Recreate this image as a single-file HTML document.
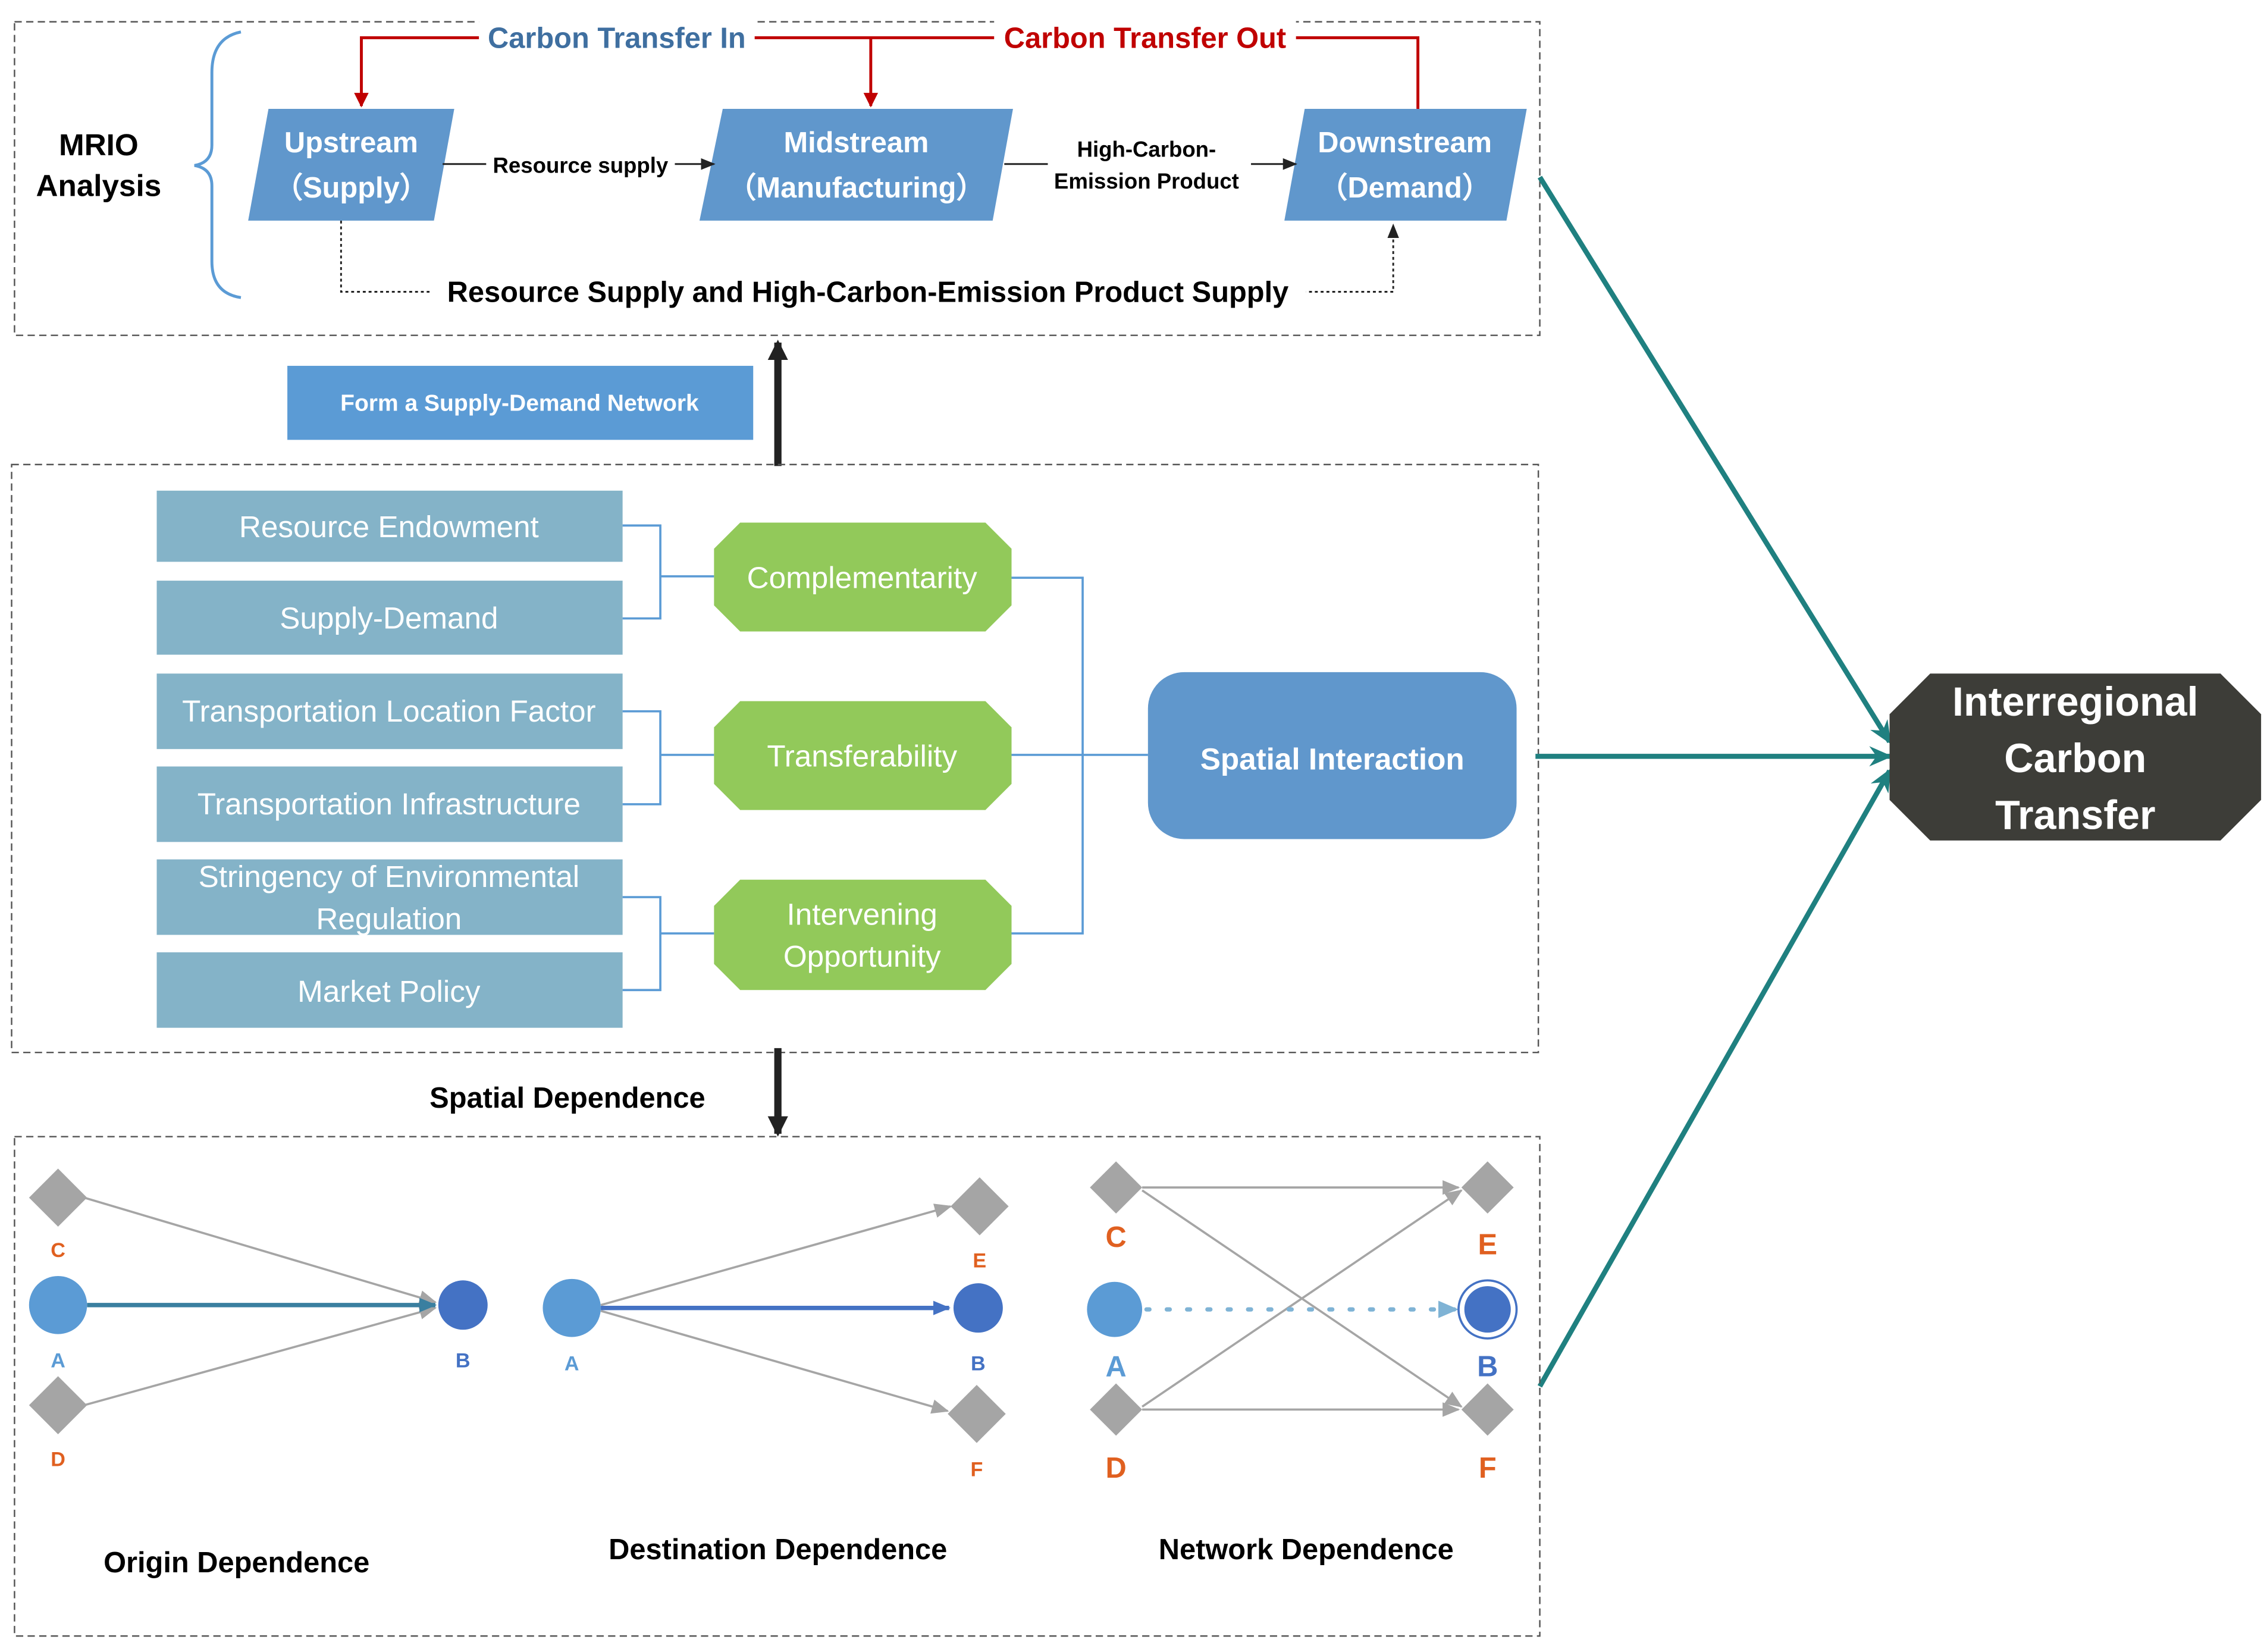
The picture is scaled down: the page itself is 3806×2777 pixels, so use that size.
<!DOCTYPE html>
<html><head><meta charset="utf-8"><style>
html,body{margin:0;padding:0;background:#fff;}
svg{display:block;}
text{font-family:"Liberation Sans",sans-serif;}
</style></head><body>
<svg width="3806" height="2777" viewBox="0 0 1560 1138" preserveAspectRatio="none" xmlns="http://www.w3.org/2000/svg">
<defs>
<marker id="ak" markerWidth="10" markerHeight="8" refX="9" refY="4" orient="auto" markerUnits="userSpaceOnUse"><path d="M0,0L10,4L0,8z" fill="#222"/></marker>
<marker id="ar" markerWidth="10" markerHeight="10" refX="9" refY="5" orient="auto" markerUnits="userSpaceOnUse"><path d="M0,0L10,5L0,10z" fill="#c00000"/></marker>
<marker id="ag" markerWidth="12" markerHeight="10" refX="11" refY="5" orient="auto" markerUnits="userSpaceOnUse"><path d="M0,0L12,5L0,10z" fill="#a5a5a5"/></marker>
<marker id="ab" markerWidth="12" markerHeight="10" refX="11" refY="5" orient="auto" markerUnits="userSpaceOnUse"><path d="M0,0L12,5L0,10z" fill="#4472c4"/></marker>
<marker id="at" markerWidth="12" markerHeight="10" refX="11" refY="5" orient="auto" markerUnits="userSpaceOnUse"><path d="M0,0L12,5L0,10z" fill="#3a7fa0"/></marker>
<marker id="alb" markerWidth="14" markerHeight="12" refX="13" refY="6" orient="auto" markerUnits="userSpaceOnUse"><path d="M0,0L14,6L0,12z" fill="#7fb3d5"/></marker>
<marker id="atl" markerWidth="16" markerHeight="14" refX="14" refY="7" orient="auto" markerUnits="userSpaceOnUse"><path d="M0,0L16,7L0,14L5,7z" fill="#1f8080"/></marker>
<marker id="abk" markerWidth="14" markerHeight="14" refX="12" refY="7" orient="auto" markerUnits="userSpaceOnUse"><path d="M0,0L14,7L0,14z" fill="#222"/></marker>
</defs>

<!-- top box -->
<rect x="10" y="15" width="1051" height="216" fill="none" stroke="#555" stroke-dasharray="5,3" stroke-width="1"/>
<path d="M166,22 Q146,26 146,50 L146,100 Q146,112 134,114 Q146,116 146,128 L146,180 Q146,202 166,205" fill="none" stroke="#5b9bd5" stroke-width="2"/>
<text x="68" y="107" font-size="21" font-weight="bold" text-anchor="middle">MRIO</text>
<text x="68" y="135" font-size="21" font-weight="bold" text-anchor="middle">Analysis</text>

<!-- red lines -->
<path d="M977,75 L977,26 L600,26 L600,73" fill="none" stroke="#c00000" stroke-width="2" marker-end="url(#ar)"/>
<path d="M600,26 L249,26 L249,73" fill="none" stroke="#c00000" stroke-width="2" marker-end="url(#ar)"/>
<rect x="330" y="14" width="190" height="24" fill="#fff"/>
<text x="425" y="33" font-size="20" font-weight="bold" fill="#3f6fa0" text-anchor="middle">Carbon Transfer In</text>
<rect x="685" y="14" width="208" height="24" fill="#fff"/>
<text x="789" y="33" font-size="20" font-weight="bold" fill="#c00000" text-anchor="middle">Carbon Transfer Out</text>

<!-- dotted -->
<path d="M235,152 L235,201 L960,201 L960,155" fill="none" stroke="#222" stroke-width="1.2" stroke-dasharray="2,2" marker-end="url(#ak)"/>
<rect x="296" y="188" width="604" height="26" fill="#fff"/>
<text x="598" y="208" font-size="20" font-weight="bold" text-anchor="middle">Resource Supply and High-Carbon-Emission Product Supply</text>

<!-- parallelograms -->
<polygon points="185,75 313,75 299,152 171,152" fill="#6097cc"/>
<text x="242" y="105" font-size="20" font-weight="bold" fill="#fff" text-anchor="middle">Upstream</text>
<text x="242" y="136" font-size="20" font-weight="bold" fill="#fff" text-anchor="middle">（Supply）</text>
<polygon points="498,75 698,75 684,152 482,152" fill="#6097cc"/>
<text x="590" y="105" font-size="20" font-weight="bold" fill="#fff" text-anchor="middle">Midstream</text>
<text x="590" y="136" font-size="20" font-weight="bold" fill="#fff" text-anchor="middle">（Manufacturing）</text>
<polygon points="899,75 1052,75 1038,152 885,152" fill="#6097cc"/>
<text x="968" y="105" font-size="20" font-weight="bold" fill="#fff" text-anchor="middle">Downstream</text>
<text x="968" y="136" font-size="20" font-weight="bold" fill="#fff" text-anchor="middle">（Demand）</text>

<line x1="305" y1="113" x2="492" y2="113" stroke="#222" stroke-width="1.2" marker-end="url(#ak)"/>
<rect x="335" y="103" width="130" height="20" fill="#fff"/>
<text x="400" y="119" font-size="15" font-weight="bold" text-anchor="middle">Resource supply</text>
<line x1="692" y1="113" x2="893" y2="113" stroke="#222" stroke-width="1.2" marker-end="url(#ak)"/>
<rect x="722" y="92" width="140" height="42" fill="#fff"/>
<text x="790" y="108" font-size="15" font-weight="bold" text-anchor="middle">High-Carbon-</text>
<text x="790" y="130" font-size="15" font-weight="bold" text-anchor="middle">Emission Product</text>

<!-- form network -->
<rect x="198" y="252" width="321" height="51" fill="#5b9bd5"/>
<text x="358" y="283" font-size="16" font-weight="bold" fill="#fff" text-anchor="middle">Form a Supply-Demand Network</text>
<line x1="536" y1="321" x2="536" y2="236" stroke="#222" stroke-width="5" marker-end="url(#abk)"/>

<!-- middle box -->
<rect x="8" y="320" width="1052" height="405" fill="none" stroke="#555" stroke-dasharray="5,3" stroke-width="1"/>
<g fill="#84b3c8">
<rect x="108" y="338" width="321" height="49"/>
<rect x="108" y="400" width="321" height="51"/>
<rect x="108" y="464" width="321" height="52"/>
<rect x="108" y="528" width="321" height="52"/>
<rect x="108" y="592" width="321" height="52"/>
<rect x="108" y="656" width="321" height="52"/>
</g>
<g font-size="21" fill="#fff" text-anchor="middle">
<text x="268" y="370">Resource Endowment</text>
<text x="268" y="433">Supply-Demand</text>
<text x="268" y="497">Transportation Location Factor</text>
<text x="268" y="561">Transportation  Infrastructure</text>
<text x="268" y="611">Stringency of Environmental</text>
<text x="268" y="640">Regulation</text>
<text x="268" y="690">Market Policy</text>
</g>
<g fill="none" stroke="#5b9bd5" stroke-width="1.5">
<path d="M429,362 H455 V426 H429 M455,397 H492"/>
<path d="M429,490 H455 V554 H429 M455,520 H492"/>
<path d="M429,618 H455 V682 H429 M455,643 H492"/>
<path d="M697,398 H746 V643 H697 M697,520 H791"/>
</g>
<g fill="#92c95a">
<polygon points="510,360 679,360 697,378 697,417 679,435 510,435 492,417 492,378"/>
<polygon points="510,483 679,483 697,501 697,540 679,558 510,558 492,540 492,501"/>
<polygon points="510,606 679,606 697,624 697,664 679,682 510,682 492,664 492,624"/>
</g>
<g font-size="21" fill="#fff" text-anchor="middle">
<text x="594" y="405">Complementarity</text>
<text x="594" y="528">Transferability</text>
<text x="594" y="637">Intervening</text>
<text x="594" y="666">Opportunity</text>
</g>
<rect x="791" y="463" width="254" height="115" rx="25" fill="#6097cc"/>
<text x="918" y="530" font-size="21" font-weight="bold" fill="#fff" text-anchor="middle">Spatial Interaction</text>

<!-- teal lines -->
<g stroke="#1f8080" stroke-width="3.5" fill="none">
<line x1="1058" y1="521" x2="1302" y2="521" marker-end="url(#atl)"/>
<line x1="1061" y1="122" x2="1302" y2="511" marker-end="url(#atl)"/>
<line x1="1061" y1="955" x2="1302" y2="531" marker-end="url(#atl)"/>
</g>
<polygon points="1330,464 1530,464 1558,492 1558,551 1530,579 1330,579 1302,551 1302,492" fill="#3d3d38"/>
<g font-size="28" font-weight="bold" fill="#fff" text-anchor="middle">
<text x="1430" y="493">Interregional</text>
<text x="1430" y="532">Carbon</text>
<text x="1430" y="571">Transfer</text>
</g>

<!-- spatial dependence -->
<line x1="536" y1="722" x2="536" y2="781" stroke="#222" stroke-width="5" marker-end="url(#abk)"/>
<text x="391" y="763" font-size="20" font-weight="bold" text-anchor="middle">Spatial Dependence</text>

<!-- bottom box -->
<rect x="10" y="783" width="1051" height="344" fill="none" stroke="#555" stroke-dasharray="5,3" stroke-width="1"/>

<!-- origin -->
<g stroke="#a5a5a5" stroke-width="1.5">
<line x1="58" y1="825" x2="300" y2="897" marker-end="url(#ag)"/>
<line x1="58" y1="968" x2="300" y2="901" marker-end="url(#ag)"/>
</g>
<line x1="60" y1="899" x2="300" y2="899" stroke="#3a7fa0" stroke-width="3" marker-end="url(#at)"/>
<g fill="#a5a5a5">
<polygon points="40,805 60,825 40,845 20,825"/>
<polygon points="40,948 60,968 40,988 20,968"/>
</g>
<circle cx="40" cy="899" r="20" fill="#5b9bd5"/>
<circle cx="319" cy="899" r="17" fill="#4472c4"/>
<g font-size="14" font-weight="bold" text-anchor="middle">
<text x="40" y="866" fill="#e06020">C</text>
<text x="40" y="942" fill="#5b9bd5">A</text>
<text x="40" y="1010" fill="#e06020">D</text>
<text x="319" y="942" fill="#4472c4">B</text>
</g>
<text x="163" y="1083" font-size="20" font-weight="bold" text-anchor="middle">Origin Dependence</text>

<!-- destination -->
<g stroke="#a5a5a5" stroke-width="1.5">
<line x1="414" y1="899" x2="655" y2="831" marker-end="url(#ag)"/>
<line x1="414" y1="903" x2="653" y2="972" marker-end="url(#ag)"/>
</g>
<line x1="414" y1="901" x2="654" y2="901" stroke="#4472c4" stroke-width="3" marker-end="url(#ab)"/>
<g fill="#a5a5a5">
<polygon points="675,811 695,831 675,851 655,831"/>
<polygon points="673,954 693,974 673,994 653,974"/>
</g>
<circle cx="394" cy="901" r="20" fill="#5b9bd5"/>
<circle cx="674" cy="901" r="17" fill="#4472c4"/>
<g font-size="14" font-weight="bold" text-anchor="middle">
<text x="675" y="873" fill="#e06020">E</text>
<text x="394" y="944" fill="#5b9bd5">A</text>
<text x="674" y="944" fill="#4472c4">B</text>
<text x="673" y="1017" fill="#e06020">F</text>
</g>
<text x="536" y="1074" font-size="20" font-weight="bold" text-anchor="middle">Destination Dependence</text>

<!-- network -->
<g stroke="#a5a5a5" stroke-width="1.5">
<line x1="787" y1="818" x2="1005" y2="818" marker-end="url(#ag)"/>
<line x1="787" y1="971" x2="1005" y2="971" marker-end="url(#ag)"/>
<line x1="787" y1="820" x2="1007" y2="969" marker-end="url(#ag)"/>
<line x1="787" y1="969" x2="1007" y2="820" marker-end="url(#ag)"/>
</g>
<line x1="790" y1="902" x2="1004" y2="902" stroke="#7fb3d5" stroke-width="3" stroke-dasharray="2,12" stroke-linecap="round" marker-end="url(#alb)"/>
<g fill="#a5a5a5">
<polygon points="769,800 787,818 769,836 751,818"/>
<polygon points="769,953 787,971 769,989 751,971"/>
<polygon points="1025,800 1043,818 1025,836 1007,818"/>
<polygon points="1025,953 1043,971 1025,989 1007,971"/>
</g>
<circle cx="768" cy="902" r="19" fill="#5b9bd5"/>
<circle cx="1025" cy="902" r="20" fill="#fff" stroke="#4472c4" stroke-width="1.5"/>
<circle cx="1025" cy="902" r="16" fill="#4472c4"/>
<g font-size="20" font-weight="bold" text-anchor="middle">
<text x="769" y="859" fill="#e06020">C</text>
<text x="769" y="948" fill="#5b9bd5">A</text>
<text x="769" y="1018" fill="#e06020">D</text>
<text x="1025" y="864" fill="#e06020">E</text>
<text x="1025" y="948" fill="#4472c4">B</text>
<text x="1025" y="1018" fill="#e06020">F</text>
</g>
<text x="900" y="1074" font-size="20" font-weight="bold" text-anchor="middle">Network Dependence</text>
</svg>
</body></html>
